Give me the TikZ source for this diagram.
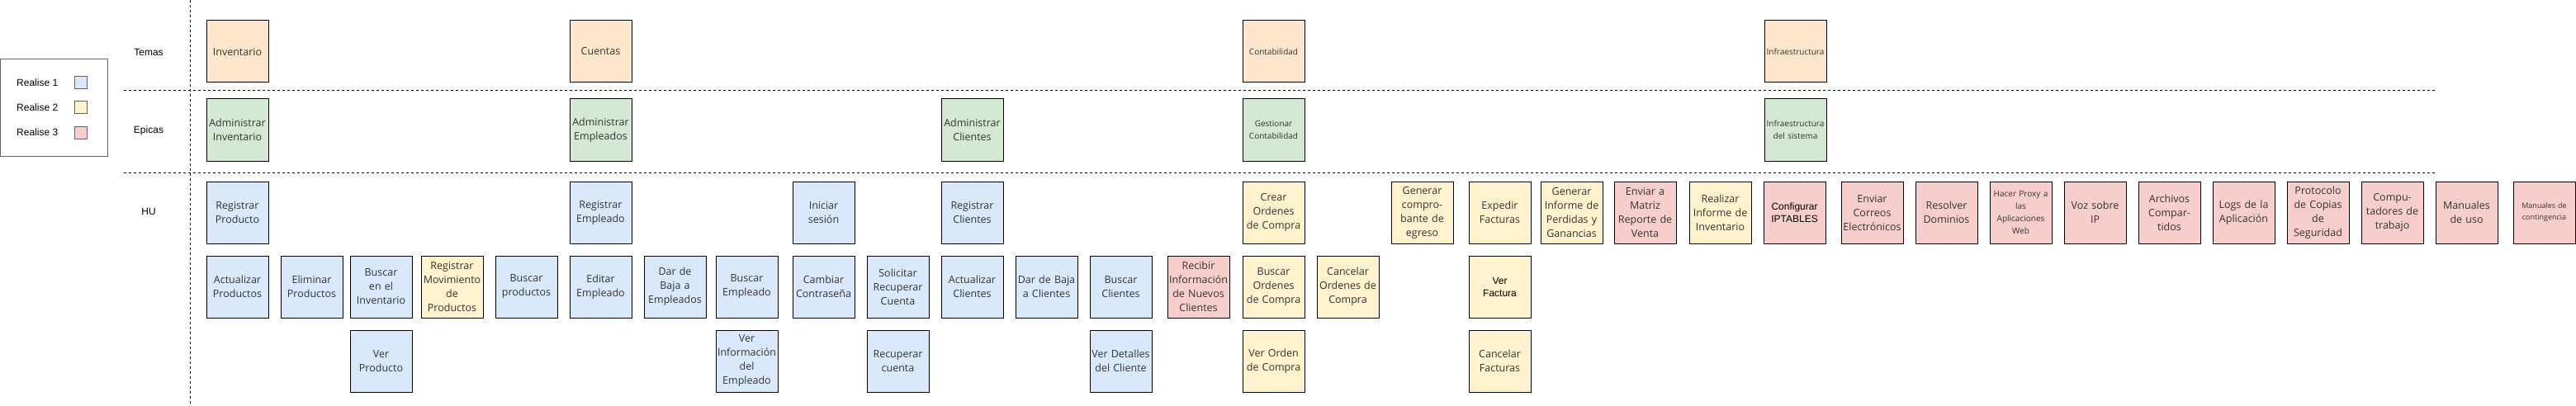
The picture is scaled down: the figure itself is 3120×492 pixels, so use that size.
\documentclass[tikz,border=0pt]{standalone}
\usepackage{fontspec}
\setmainfont{Open Sans}
\newfontfamily\arialf{Liberation Sans}
\definecolor{cBlue}{HTML}{DAE8FC}
\definecolor{cYel}{HTML}{FFF2CC}
\definecolor{cRed}{HTML}{F8CECC}
\definecolor{cGreen}{HTML}{D5E8D4}
\definecolor{cOrange}{HTML}{FFE6CC}
\definecolor{cTxt}{HTML}{333333}
\definecolor{cGrey}{HTML}{666666}
\tikzset{
  card/.style={draw=black, line width=1pt, minimum width=75pt, minimum height=75pt,
    inner sep=0pt, align=center, text width=75pt, text=cTxt,
    font=\fontsize{12.5}{17}\selectfont},
  smallcard/.style={card, font=\fontsize{10}{15}\selectfont},
  tinycard/.style={card, font=\fontsize{9}{14}\selectfont},
  ariacard/.style={card, text=black, font=\arialf\fontsize{12}{15}\selectfont},
  rb/.style={fill=cBlue},
  ry/.style={fill=cYel},
  rr/.style={fill=cRed},
  rg/.style={fill=cGreen},
  ro/.style={fill=cOrange},
  rowlabel/.style={font=\arialf\fontsize{12}{14}\selectfont, text=black, inner sep=0pt},
  legtext/.style={font=\arialf\fontsize{12}{14}\selectfont, text=black, inner sep=0pt, anchor=west},
  swatch/.style={draw=cGrey, line width=1pt, minimum width=15pt, minimum height=15pt, inner sep=0pt},
  sep/.style={draw=black, line width=1pt, dash pattern=on 3pt off 3pt}
}
\begin{document}
\begin{tikzpicture}[x=1pt,y=-1pt]
\useasboundingbox (0,0) rectangle (3120,492);
% separators
\coordinate (vt) at (230,0);
\coordinate (vb) at (230,492);
\coordinate (h1l) at (150,110);
\coordinate (h1r) at (2950,110);
\coordinate (h2l) at (150,209);
\coordinate (h2r) at (2950,209);
\draw[sep] (vt) -- (vb);
\draw[sep] (h1l) -- (h1r);
\draw[sep] (h2l) -- (h2r);
% legend
\node[draw=cGrey, line width=1pt, minimum width=130pt, minimum height=117pt, inner sep=0pt] (leg) at (65,130.5) {};
\node[legtext] (l1) at (20,100) {Realise 1};
\node[legtext] (l2) at (20,130) {Realise 2};
\node[legtext] (l3) at (20,160) {Realise 3};
\node[swatch, fill=cBlue] (s1) at (97.5,100.5) {};
\node[swatch, fill=cYel] (s2) at (97.5,130.5) {};
\node[swatch, fill=cRed] (s3) at (97.5,160.5) {};
% row labels
\node[rowlabel] (temas) at (180,63) {Temas};
\node[rowlabel] (epicas) at (180,158) {Epicas};
\node[rowlabel] (hu) at (180,256) {HU};
% Temas
\node[card,ro] (t1) at (287.5,62.5) {Inventario};
\node[card,ro] (t2) at (727.5,62.5) {Cuentas};
\node[smallcard,ro] (t3) at (1542.5,62.5) {Contabilidad};
\node[smallcard,ro] (t4) at (2174.5,62.5) {Infraestructura};
% Epicas
\node[card,rg] (e1) at (287.5,157.5) {Administrar\\Inventario};
\node[card,rg] (e2) at (727.5,157.5) {Administrar\\Empleados};
\node[card,rg] (e3) at (1177.5,157.5) {Administrar\\Clientes};
\node[smallcard,rg] (e4) at (1542.5,157.5) {Gestionar\\Contabilidad};
\node[smallcard,rg] (e5) at (2174.5,157.5) {Infraestructura\\del sistema};
% HU row 1
\node[card,rb] (a1) at (287.5,257.5) {Registrar\\Producto};
\node[card,rb] (a2) at (727.5,257.5) {Registrar\\Empleado};
\node[card,rb] (a3) at (997.5,257.5) {Iniciar\\sesión};
\node[card,rb] (a4) at (1177.5,257.5) {Registrar\\Clientes};
\node[card,ry] (a5) at (1542.5,257.5) {Crear\\Ordenes\\de Compra};
\node[card,ry] (a6) at (1722.5,257.5) {Generar\\compro-\\bante de\\egreso};
\node[card,ry] (a7) at (1816.5,257.5) {Expedir\\Facturas};
\node[card,ry] (a8) at (1903.5,257.5) {Generar\\Informe de\\Perdidas y\\Ganancias};
\node[card,rr] (a9) at (1992.5,257.5) {Enviar a\\Matriz\\Reporte de\\Venta};
\node[card,ry] (a10) at (2083.5,257.5) {Realizar\\Informe de\\Inventario};
\node[ariacard,rr] (a11) at (2173.5,257.5) {Configurar\\IPTABLES};
\node[card,rr] (a12) at (2267.5,257.5) {Enviar\\Correos\\Electrónicos};
\node[card,rr] (a13) at (2357.5,257.5) {Resolver\\Dominios};
\node[smallcard,rr] (a14) at (2447.5,257.5) {Hacer Proxy a\\las\\Aplicaciones\\Web};
\node[card,rr] (a15) at (2537.5,257.5) {Voz sobre\\IP};
\node[card,rr] (a16) at (2627.5,257.5) {Archivos\\Compar-\\tidos};
\node[card,rr] (a17) at (2717.5,257.5) {Logs de la\\Aplicación};
\node[card,rr] (a18) at (2807.5,257.5) {Protocolo\\de Copias\\de\\Seguridad};
\node[card,rr] (a19) at (2897.5,257.5) {Compu-\\tadores de\\trabajo};
\node[card,rr] (a20) at (2987.5,257.5) {Manuales\\de uso};
\node[tinycard,rr] (a21) at (3081.5,257.5) {Manuales de\\contingencia};
% HU row 2
\node[card,rb] (b1) at (287.5,347.5) {Actualizar\\Productos};
\node[card,rb] (b2) at (377.5,347.5) {Eliminar\\Productos};
\node[card,rb] (b3) at (461.5,347.5) {Buscar\\en el\\Inventario};
\node[card,ry] (b4) at (547.5,347.5) {Registrar\\Movimiento\\de\\Productos};
\node[card,rb] (b5) at (637.5,347.5) {Buscar\\productos};
\node[card,rb] (b6) at (727.5,347.5) {Editar\\Empleado};
\node[card,rb] (b7) at (817.5,347.5) {Dar de\\Baja a\\Empleados};
\node[card,rb] (b8) at (904.5,347.5) {Buscar\\Empleado};
\node[card,rb] (b9) at (997.5,347.5) {Cambiar\\Contraseña};
\node[card,rb] (b10) at (1087.5,347.5) {Solicitar\\Recuperar\\Cuenta};
\node[card,rb] (b11) at (1177.5,347.5) {Actualizar\\Clientes};
\node[card,rb] (b12) at (1267.5,347.5) {Dar de Baja\\a Clientes};
\node[card,rb] (b13) at (1357.5,347.5) {Buscar\\Clientes};
\node[card,rr] (b14) at (1451.5,347.5) {Recibir\\Información\\de Nuevos\\Clientes};
\node[card,ry] (b15) at (1542.5,347.5) {Buscar\\Ordenes\\de Compra};
\node[card,ry] (b16) at (1632.5,347.5) {Cancelar\\Ordenes de\\Compra};
\node[ariacard,ry] (b17) at (1816.5,347.5) {Ver\\Factura};
% HU row 3
\node[card,rb] (c1) at (461.5,437.5) {Ver\\Producto};
\node[card,rb] (c2) at (904.5,437.5) {Ver\\Información\\del\\Empleado};
\node[card,rb] (c3) at (1087.5,437.5) {Recuperar\\cuenta};
\node[card,rb] (c4) at (1357.5,437.5) {Ver Detalles\\del Cliente};
\node[card,ry] (c5) at (1542.5,437.5) {Ver Orden\\de Compra};
\node[card,ry] (c6) at (1816.5,437.5) {Cancelar\\Facturas};
\end{tikzpicture}
\end{document}
